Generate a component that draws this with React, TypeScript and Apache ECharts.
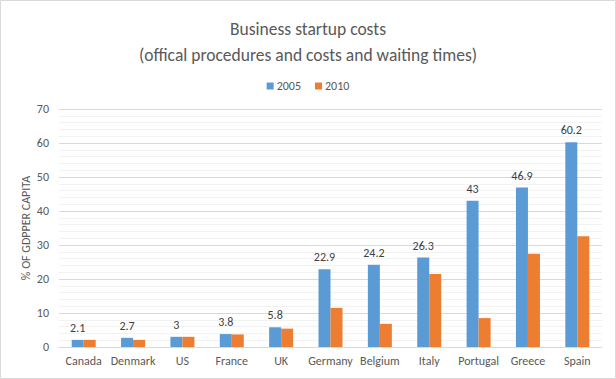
import React, { useEffect, useRef } from "react";
import * as echarts from "echarts";

const categories = ["Canada", "Denmark", "US", "France", "UK", "Germany", "Belgium", "Italy", "Portugal", "Greece", "Spain"];
const series2005 = [2.1, 2.7, 3, 3.8, 5.8, 22.9, 24.2, 26.3, 43, 46.9, 60.2];
const series2010 = [2.1, 2.1, 3, 3.7, 5.4, 11.5, 6.8, 21.5, 8.5, 27.4, 32.6];
const seriesNames = ["2005", "2010"];
const titleText = "Business startup costs\n(offical procedures and costs and waiting times)";
const yAxisName = "% OF GDPPER CAPITA";

const FONT = "Carlito, Lato, 'Open Sans', sans-serif";

export default function App() {
  const ref = useRef<HTMLDivElement>(null);
  useEffect(() => {
    if (!ref.current) return;
    const chart = echarts.init(ref.current, null, { renderer: "svg" });
    chart.setOption({
      animation: false,
      backgroundColor: "#ffffff",
      textStyle: { fontFamily: FONT },
      title: {
        text: titleText,
        left: "center",
        top: 11,
        textStyle: { fontFamily: FONT, fontSize: 17.5, fontWeight: "normal", color: "#595959", lineHeight: 26 },
      },
      legend: {
        data: seriesNames,
        top: 75,
        left: "center",
        itemWidth: 7,
        itemHeight: 7,
        itemGap: 14,
        icon: "rect",
        textStyle: { fontFamily: FONT, fontSize: 12, color: "#595959", padding: [0, 0, 0, -2] },
      },
      grid: { left: 59, right: 14, top: 109, bottom: 32, containLabel: false },
      xAxis: {
        type: "category",
        data: categories,
        axisLine: { lineStyle: { color: "#D9D9D9" } },
        axisTick: { show: false },
        axisLabel: { fontFamily: FONT, fontSize: 12, color: "#595959", margin: 8, interval: 0 },
      },
      yAxis: {
        type: "value",
        min: 0,
        max: 70,
        interval: 10,
        name: yAxisName,
        nameLocation: "middle",
        nameGap: 27,
        nameMoveOverlap: false,
        nameTextStyle: { fontFamily: FONT, fontSize: 12, color: "#595959" },
        axisLine: { show: false },
        axisTick: { show: false },
        axisLabel: { fontFamily: FONT, fontSize: 12, color: "#595959", margin: 10 },
        splitLine: { show: true, lineStyle: { color: "#D9D9D9" } },
        minorTick: { show: false, splitNumber: 5 },
        minorSplitLine: { show: true, lineStyle: { color: "#F2F2F2" } },
      },
      series: [
        {
          name: seriesNames[0],
          type: "bar",
          data: series2005,
          barWidth: 12,
          barGap: "0%",
          itemStyle: { color: "#5B9BD5" },
          label: { show: true, position: "top", distance: 6, fontFamily: FONT, fontSize: 12, color: "#404040" },
        },
        {
          name: seriesNames[1],
          type: "bar",
          data: series2010,
          barWidth: 12,
          barGap: "0%",
          itemStyle: { color: "#ED7D31" },
        },
      ],
      graphic: [
        {
          type: "rect",
          shape: { x: 0.5, y: 0.5, width: 615, height: 378 },
          style: { fill: "none", stroke: "#D9D9D9", lineWidth: 1 },
          silent: true,
          z: 100,
        },
      ],
    });
    return () => chart.dispose();
  }, []);
  return <div ref={ref} style={{ position: "fixed", left: 0, top: 0, width: 616, height: 379 }} />;
}
